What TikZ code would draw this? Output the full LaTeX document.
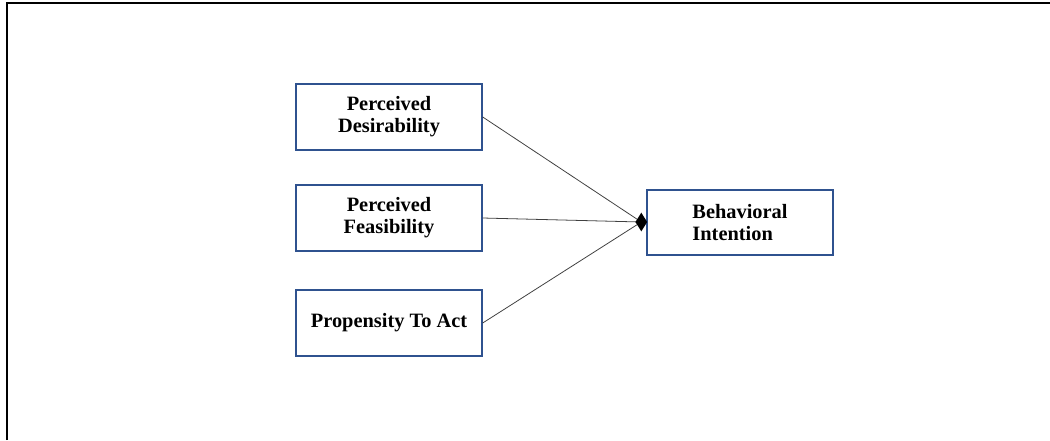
\documentclass[tikz,border=0pt]{standalone}
\usepackage{fontspec}
\setmainfont{Liberation Serif}
\usetikzlibrary{shapes.geometric}
\definecolor{boxblue}{RGB}{47,82,143}
\tikzset{
  factor/.style={draw=boxblue, line width=0.8pt, minimum width=186*0.02cm, minimum height=66*0.02cm,
    inner sep=0pt, align=center, font=\fontsize{11.6pt}{12.6pt}\selectfont\bfseries},
  link/.style={draw=black!75, line width=0.45pt},
  tipdiamond/.style={diamond, fill=black, draw=none, minimum width=12*0.02cm, minimum height=19*0.02cm, inner sep=0pt},
  frame/.style={draw=black, line width=1.1pt}
}
\begin{document}
\begin{tikzpicture}[x=0.02cm,y=-0.02cm]
\useasboundingbox (0,0) rectangle (1050,440);
\draw[frame] (7,440) -- (7,3) -- (1050,3);
\node[factor] (pd) at (389,117) {Perceived\\Desirability};
\node[factor] (pf) at (389,218) {Perceived\\Feasibility};
\node[factor] (pa) at (389,323) {Propensity To Act};
\node[factor, align=left, minimum height=65*0.02cm] (bi) at (740,222.5) {Behavioral\\Intention};
\coordinate (j) at ([xshift=-5*0.02cm, yshift=0.5*0.02cm]bi.west);
\draw[link] (pd.east) -- (j);
\draw[link] (pf.east) -- (j);
\draw[link] (pa.east) -- (j);
\node[tipdiamond] (tip) at (j) {};
\end{tikzpicture}
\end{document}
